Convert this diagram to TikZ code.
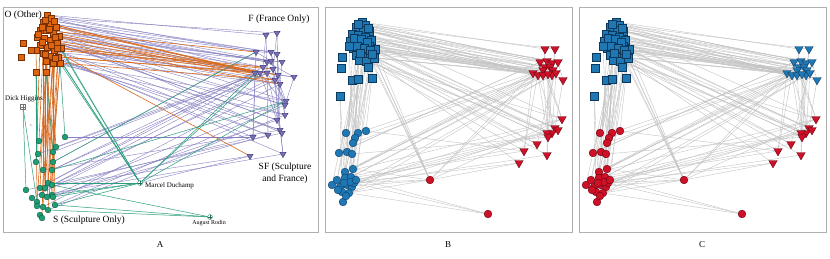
\documentclass[tikz,border=0pt]{standalone}
\usepackage{fontspec}
\setmainfont{Liberation Serif}
\usetikzlibrary{shapes.geometric}
\pgfdeclarelayer{bg}
\pgfsetlayers{bg,main}
\definecolor{ofill}{HTML}{DE6410}
\definecolor{oline}{HTML}{7A3000}
\definecolor{gfill}{HTML}{1E9E74}
\definecolor{gline}{HTML}{0B4F38}
\definecolor{pfill}{HTML}{7570B3}
\definecolor{pline}{HTML}{3A3570}
\definecolor{bfill}{HTML}{1F77B4}
\definecolor{bline}{HTML}{0B3A5E}
\definecolor{rfill}{HTML}{CE1126}
\definecolor{rline}{HTML}{5E0010}
\definecolor{eorange}{HTML}{D96A1E}
\definecolor{epurple}{HTML}{8680C2}
\definecolor{egreen}{HTML}{2A9D7C}
\definecolor{egray}{HTML}{C4C4C4}
\definecolor{framec}{HTML}{B0B0B0}
\tikzset{
  nd/.style={inner sep=0pt, outer sep=0pt, line width=0.35pt},
  sqA/.style={nd, rectangle, minimum size=6.4pt, fill=ofill, draw=oline},
  ciA/.style={nd, circle, minimum size=5.8pt, fill=gfill, draw=gline},
  trA/.style={nd, regular polygon, regular polygon sides=3, shape border rotate=180, minimum size=7.2pt, fill=pfill, draw=pline},
  sqB/.style={nd, rectangle, minimum size=8.4pt, fill=bfill, draw=bline},
  ciBb/.style={nd, circle, minimum size=7.8pt, fill=bfill, draw=bline},
  ciBr/.style={nd, circle, minimum size=7.8pt, fill=rfill, draw=rline},
  trBr/.style={nd, regular polygon, regular polygon sides=3, shape border rotate=180, minimum size=9.8pt, fill=rfill, draw=rline},
  trBb/.style={nd, regular polygon, regular polygon sides=3, shape border rotate=180, minimum size=9.8pt, fill=bfill, draw=bline},
  mkcross/.style={path picture={\draw[line width=0.3pt,#1] (path picture bounding box.north) -- (path picture bounding box.south) (path picture bounding box.west) -- (path picture bounding box.east);}},
  hmark/.style={nd, rectangle, minimum size=5pt, fill=white, draw=black!55, mkcross=black!55},
  dmark/.style={nd, circle, minimum size=5pt, fill=white, draw=egreen!70!black, mkcross=egreen!70!black},
  eO/.style={draw=eorange, line width=0.6pt},
  eP/.style={draw=epurple, line width=0.4pt},
  eG/.style={draw=egreen, line width=0.5pt},
  eY/.style={draw=egray, line width=0.4pt},
  panel/.style={draw=framec, line width=0.9pt},
  lbl/.style={font=\fontsize{9.5}{12}\selectfont, inner sep=0pt},
  sml/.style={font=\fontsize{7}{8}\selectfont, inner sep=0pt},
  tny/.style={font=\fontsize{6}{7}\selectfont, inner sep=0pt},
  let/.style={font=\fontsize{9}{10}\selectfont, inner sep=0pt}
}
\def\AO{1/47/15,2/51/18,3/43/22,4/50/24,5/56/27,6/40/30,7/46/30,8/53/33,9/59/36,10/37/37,11/44/38,12/50/40,13/57/43,14/61/48,15/40/45,16/47/47,17/54/50,18/36/50,19/43/53,20/50/56,21/58/57,22/46/61,23/53/63,24/60/63,25/23/43,26/21/57,27/31/50,28/36/72,29/46/72,30/42/27,31/45/20,32/54/21,33/38/34,34/49/29,35/55/37,36/42/42,37/51/45,38/57/48,39/45/54,40/55/58}
\def\BO{1/362/22,2/365/25,3/356/27,4/363/30,5/369/31,6/352/34,7/358/35,8/365/37,9/371/40,10/350/41,11/356/42,12/362/44,13/369/46,14/375/49,15/353/48,16/359/50,17/366/52,18/349/46,19/356/55,20/362/57,21/370/57,22/359/60,23/366/61,24/374/58,25/342/57,26/341/68,27/368/67,28/352/80,29/358/79,30/372/78,31/358/24,32/368/28,33/354/38,34/361/39,35/367/42,36/357/46,37/364/48,38/370/50,39/360/53,40/372/54}
\def\AS{1/65/137,2/39/141,3/56/147,4/53/152,5/38/154,6/53/162,7/36/162,8/43/170,9/52/170,10/48/183,11/40/188,12/45/188,13/26/190,14/52/185,15/52/195,16/42/195,17/32/198,18/37/202,19/55/205,20/37/206,21/43/207,22/48/210,23/40/215,24/42/218,25/53/197,26/47/197}
\def\BS{1/366/131,2/346/133,3/358/133,4/355/138,5/353/143,6/339/153,7/347/152,8/352/154,9/345/172,10/353/169,11/332/185,12/337/180,13/345/178,14/351/177,15/340/187,16/347/185,17/352/187,18/342/192,19/349/193,20/343/202,21/346/196,22/354/183,23/338/190,24/350/182,25/344/183,26/356/180}
\def\AF{1/266/35,2/277/33,3/256/52,4/271/52,5/277/54,6/267/62,7/271/61,8/282/62,9/263/67,10/273/69,11/255/73,12/260/73,13/267/73,14/278/75,15/294/77,16/275/80,17/280/84,18/286/101,19/285/105,20/285/115,21/277/120,22/280/130,23/268/135,24/253/137,25/283/154,26/250/156,27/282/133}
\def\BF{1/545/49,2/555/49,3/540/62,4/547/61,5/552/63,6/558/62,7/545/67,8/550/67,9/543/70,10/553/70,11/533/73,12/538/75,13/543/75,14/552/75,15/563/80,16/548/74,17/556/73,18/562/119,19/555/128,20/552/133,21/547/133,22/548/137,23/537/144,24/524/151,25/547/155,26/519/163,27/558/130}
% edge lists
\def\OFo{3/11,5/12,8/13,9/16,12/14,13/17,14/9,17/10,20/11,21/13,24/16,16/26,4/12,6/3,35/14,38/13}
\def\OFp{1/1,2/2,1/3,2/4,4/5,5/6,7/7,8/8,9/10,11/12,13/15,14/16,15/17,3/18,6/19,10/20,12/21,16/22,17/23,19/24,21/25,22/18,23/20,24/22,18/11,9/14,5/9,2/13,11/19,13/21,7/27,20/23,3/6,10/8,32/7,34/11,37/12,40/17,31/4}
\def\OS{19/2,20/3,22/4,23/6,24/9,16/10,17/12,21/14,22/15,23/19,20/21,18/5,24/22,19/8,15/7,17/25,21/26,22/11,23/16,29/18,28/20,29/24,39/12,40/10}
\def\SFp{3/11,4/12,6/3,9/13,10/9,14/16,15/18,19/19,22/20,25/21,26/23,12/24,11/26,16/25,8/22,21/17,17/14,5/10,1/24,13/27,9/11,10/12,14/13}
\def\FF{1/13,2/10,2/14,1/9,3/24,4/20,5/22,6/23,7/18,8/21,10/25,12/19,13/22,14/15,15/19,16/25,17/20,9/18,11/24,4/16,6/15,12/21,3/7,5/17}
\def\ODg{14,21,24,17,13}
\def\OSg{24/1,29/4,28/7}
\def\SDg{19,15,25,10}
\def\SRg{22,19,14}
\def\DFg{11,18,12}
\def\SFg{9/18,6/3}
\def\HSg{13,18}
\begin{document}
\begin{tikzpicture}[x=1pt,y=-1pt]
\useasboundingbox (0,0) rectangle (830,259);
% ---------- nodes panel A
\foreach \i/\x/\y in \AO {\node[sqA] (ao\i) at (\x,\y) {};}
\foreach \i/\x/\y in \AS {\node[ciA] (as\i) at (\x,\y) {};}
\foreach \i/\x/\y in \AF {\node[trA] (af\i) at (\x,\y) {};}
\node[hmark] (ah) at (23,107) {};
\node[dmark] (ad) at (140,183) {};
\node[dmark] (ar) at (210,217) {};
\node[text=black!45, font=\fontsize{6}{6}\selectfont, inner sep=0pt] (aplus) at (31,126) {+};
% ---------- nodes panel B
\foreach \i/\x/\y in \BO {\node[sqB] (bo\i) at (\x,\y) {};}
\foreach \i/\x/\y in \BS {\node[ciBb] (bs\i) at (\x,\y) {};}
\foreach \i/\x/\y in \BF {\node[trBr] (bf\i) at (\x,\y) {};}
\node[sqB] (bh) at (340,96) {};
\node[ciBr] (bd) at (430,180) {};
\node[ciBr] (br) at (488,214) {};
% ---------- nodes panel C
\foreach \i/\x/\y in \BO {\node[sqB] (co\i) at (\x+254,\y) {};}
\foreach \i/\x/\y in \BS {\node[ciBr] (cs\i) at (\x+254,\y) {};}
\foreach \i/\x/\y in \BF {\ifnum\i<18 \node[trBb] (cf\i) at (\x+254,\y) {};\else \node[trBr] (cf\i) at (\x+254,\y) {};\fi}
\node[sqB] (ch) at (594,96) {};
\node[ciBr] (cd) at (684,180) {};
\node[ciBr] (cr) at (742,214) {};
% ---------- labels
\node[lbl, anchor=west] (tO) at (4.5,15) {O (Other)};
\node[lbl] (tF) at (279,19) {F (France Only)};
\node[lbl, align=center] (tSF) at (285,173) {SF (Sculpture\\and France)};
\node[lbl] (tS) at (89,220) {S (Sculpture Only)};
\node[sml] (tH) at (24,99) {Dick Higgins};
\node[sml, anchor=west] (tD) at (145,186) {Marcel Duchamp};
\node[tny] (tR) at (209,223) {August Rodin};
\node[let] (tA) at (160,245) {A};
\node[let] (tB) at (448,245) {B};
\node[let] (tC) at (702,245) {C};
% ---------- background: frames and edges
\begin{pgfonlayer}{bg}
\fill[white] (0,0) rectangle (830,259);
\draw[panel] (3,7) rectangle (318,232);
\draw[panel] (325,7) rectangle (572,232);
\draw[panel] (579,7) rectangle (826,232);
% panel A edges
\foreach \a/\b in \FF {\draw[eP] (af\a) -- (af\b);}
\foreach \a/\b in \SFp {\draw[eP] (as\a) -- (af\b);}
\foreach \a/\b in \OFp {\draw[eP] (ao\a) -- (af\b);}
\draw[eP] (ad) -- (af26);
\foreach \a/\b in \OS {\draw[eO] (ao\a) -- (as\b);}
\foreach \a/\b in \OFo {\draw[eO] (ao\a) -- (af\b);}
\foreach \a in \ODg {\draw[eG] (ao\a) -- (ad);}
\foreach \a/\b in \OSg {\draw[eG] (ao\a) -- (as\b);}
\foreach \a in \SDg {\draw[eG] (as\a) -- (ad);}
\foreach \a in \SRg {\draw[eG] (as\a) -- (ar);}
\foreach \b in \DFg {\draw[eG] (ad) -- (af\b);}
\foreach \a/\b in \SFg {\draw[eG] (as\a) -- (af\b);}
\foreach \b in \HSg {\draw[eG] (ah) -- (as\b);}
% panels B and C edges
\foreach \p in {b,c}{
  \foreach \a/\b in \FF {\draw[eY] (\p f\a) -- (\p f\b);}
  \foreach \a/\b in \SFp {\draw[eY] (\p s\a) -- (\p f\b);}
  \foreach \a/\b in \OFp {\draw[eY] (\p o\a) -- (\p f\b);}
  \foreach \a/\b in \OFo {\draw[eY] (\p o\a) -- (\p f\b);}
  \foreach \a/\b in \OS {\draw[eY] (\p o\a) -- (\p s\b);}
  \foreach \a in \ODg {\draw[eY] (\p o\a) -- (\p d);}
  \foreach \a/\b in \OSg {\draw[eY] (\p o\a) -- (\p s\b);}
  \foreach \a in \SDg {\draw[eY] (\p s\a) -- (\p d);}
  \foreach \a in \SRg {\draw[eY] (\p s\a) -- (\p r);}
  \foreach \b in \DFg {\draw[eY] (\p d) -- (\p f\b);}
  \foreach \a/\b in \SFg {\draw[eY] (\p s\a) -- (\p f\b);}
  \foreach \b in \HSg {\draw[eY] (\p h) -- (\p s\b);}
  \draw[eY] (\p d) -- (\p f26);
}
\end{pgfonlayer}
\end{tikzpicture}
\end{document}
